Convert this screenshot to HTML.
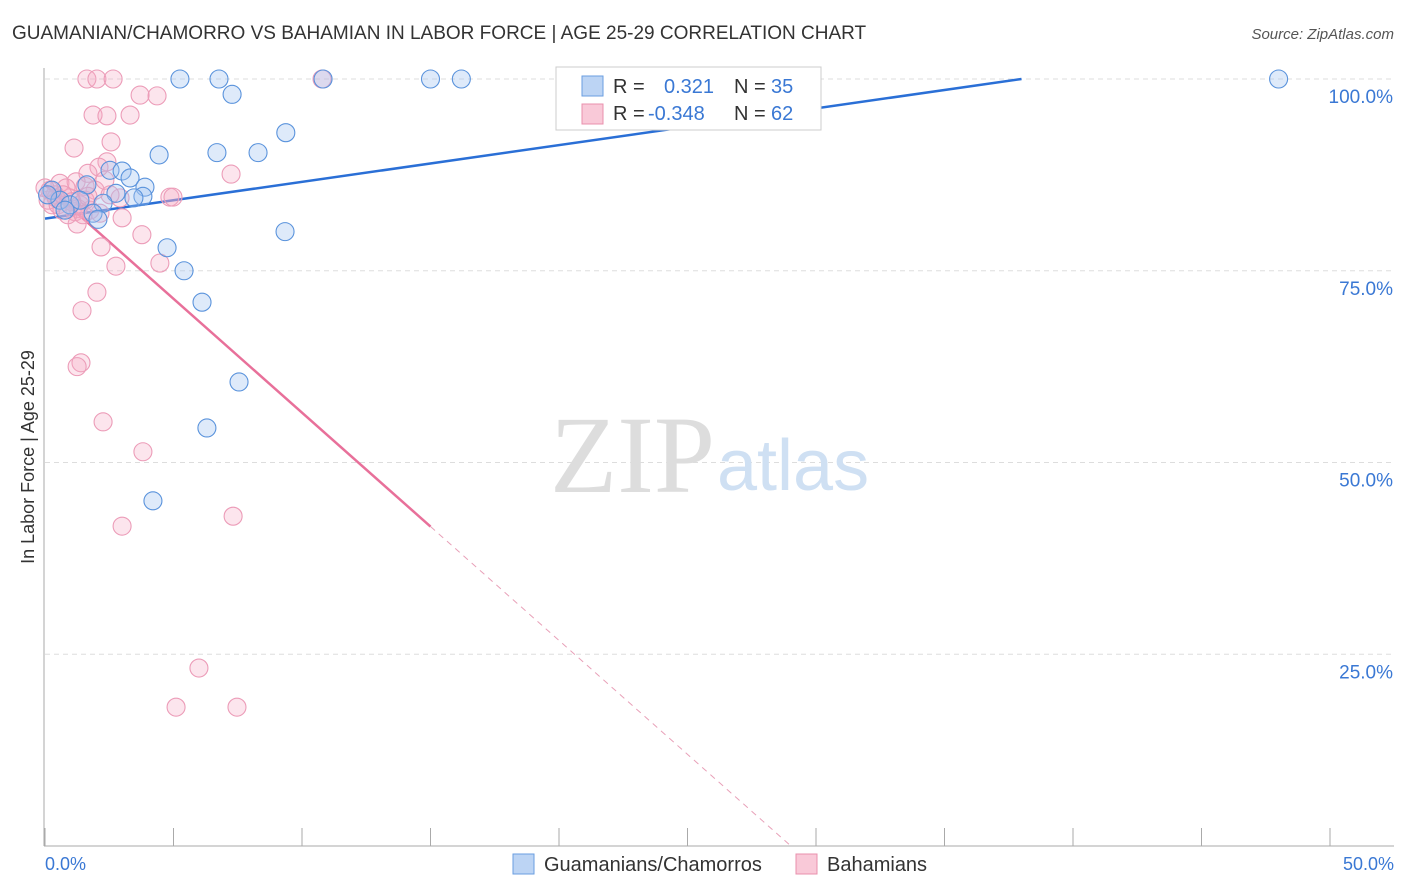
<!DOCTYPE html>
<html><head><meta charset="utf-8"><style>
body{margin:0;background:#fff;font-family:"Liberation Sans",sans-serif;}
</style></head><body>
<svg width="1406" height="892" viewBox="0 0 1406 892" style="display:block">
<text x="12" y="39" font-size="19" fill="#333">GUAMANIAN/CHAMORRO VS BAHAMIAN IN LABOR FORCE | AGE 25-29 CORRELATION CHART</text>
<text x="1394" y="39" font-size="15" fill="#555" font-style="italic" text-anchor="end">Source: ZipAtlas.com</text>
<g id="grid"></g>
<text x="715" y="492" font-size="110" fill="#ddd" text-anchor="end" font-family="Liberation Serif,serif">ZIP</text>
<text x="717" y="490" font-size="72" fill="#cfe0f3">atlas</text>
<line x1="44" y1="68" x2="44" y2="846" stroke="#aaa"/>
<line x1="44" y1="846" x2="1394" y2="846" stroke="#aaa"/>
<g id="ticks"></g>
<text transform="translate(34,457) rotate(-90)" font-size="18" fill="#333" text-anchor="middle">In Labor Force | Age 25-29</text>
<text x="45" y="870" font-size="18" fill="#3a78d4">0.0%</text>
<text x="1394" y="870" font-size="18" fill="#3a78d4" text-anchor="end">50.0%</text>
<g id="lines"></g>
<g id="points"></g>
<g>
<rect x="556" y="67" width="265" height="63" fill="#fff" stroke="#ccc"/>
<rect x="582" y="76" width="21" height="20" fill="#bcd4f4" stroke="#6a9ee0"/>
<rect x="582" y="104" width="21" height="20" fill="#f9c9d8" stroke="#e990ad"/>
<text x="613" y="93" font-size="20" fill="#333">R =</text>
<text x="664" y="93" font-size="20" fill="#3a78d4">0.321</text>
<text x="734" y="93" font-size="20" fill="#333">N =</text>
<text x="771" y="93" font-size="20" fill="#3a78d4">35</text>
<text x="613" y="120" font-size="20" fill="#333">R =</text>
<text x="648" y="120" font-size="20" fill="#3a78d4">-0.348</text>
<text x="734" y="120" font-size="20" fill="#333">N =</text>
<text x="771" y="120" font-size="20" fill="#3a78d4">62</text>
</g>
<g>
<rect x="513" y="854" width="21" height="20" fill="#bcd4f4" stroke="#6a9ee0"/>
<text x="544" y="871" font-size="20" fill="#333">Guamanians/Chamorros</text>
<rect x="796" y="854" width="21" height="20" fill="#f9c9d8" stroke="#e990ad"/>
<text x="827" y="871" font-size="20" fill="#333">Bahamians</text>
</g>
</svg>
<script>
const yTicks=[25,50,75,100];
const xTickVals=[0,5,10,15,20,25,30,35,40,45,50];
const blueX=[5.25,6.77,10.82,15.0,16.2,48.0,7.28,9.37,4.44,6.69,8.29,2.53,3.0,3.31,3.89,1.63,2.76,3.81,3.46,2.26,1.87,2.06,0.27,0.58,0.97,9.34,4.75,5.41,6.11,7.55,6.30,4.20,0.1,1.36,0.78];
const blueY=[100,100,100,100,100,100,98.0,93.0,90.1,90.4,90.4,88.1,88.0,87.1,85.9,86.2,85.1,84.7,84.5,83.8,82.5,81.7,85.5,84.2,83.6,80.1,78.0,75.0,70.9,60.5,54.5,45.0,84.9,84.2,82.9];
const pinkX=[1.63,2.02,2.65,10.78,3.70,4.36,1.87,2.41,3.31,2.57,1.13,2.41,2.10,1.67,7.24,0.58,1.21,1.95,1.56,4.86,4.98,2.92,0.19,0.39,0.12,0.27,0.51,0.66,0.97,1.17,1.36,1.75,1.56,0.82,1.28,3.0,1.25,3.77,2.18,2.76,4.47,2.02,1.44,1.40,1.25,2.26,3.81,7.32,3.0,5.99,5.10,7.47,0.43,0.70,1.05,1.67,2.14,2.53,0,0.89,1.48,2.33];
const pinkY=[100,100,100,100,97.9,97.8,95.3,95.2,95.3,91.8,91.0,89.2,88.5,87.7,87.6,86.4,86.6,85.5,86.0,84.6,84.6,84.5,85.5,84.9,84.2,83.6,83.6,82.9,84.5,82.7,83.6,82.9,84.2,85.8,83.1,81.9,81.1,79.7,78.1,75.6,76.0,72.2,69.8,63.0,62.5,55.3,51.4,43.0,41.7,23.2,18.1,18.1,84.5,84.9,84.0,84.7,82.5,84.9,85.8,82.3,82.3,86.8];
const blueTrend=[81.8,0.479];
const pinkTrend=[86.2,-2.97];
const pinkSolidEnd=15;
const NS='http://www.w3.org/2000/svg';
const sx=v=>45+v*25.7, sy=v=>846-v*7.67;
function mk(tag,attrs,parent){const e=document.createElementNS(NS,tag);for(const k in attrs)e.setAttribute(k,attrs[k]);document.getElementById(parent).appendChild(e);return e;}
yTicks.forEach(t=>{
  const l=mk('line',{x1:45,x2:1394,y1:sy(t),y2:sy(t),stroke:'#ddd','stroke-dasharray':'5,4'},'grid');
  
  
  const tx=mk('text',{x:1393,y:sy(t)+24,'font-size':19,fill:'#3a78d4','text-anchor':'end'},'grid');
  tx.textContent=t.toFixed(1)+'%';
  
  
});
xTickVals.forEach(t=>{
  const l=mk('line',{x1:sx(t),x2:sx(t),y1:828,y2:846,stroke:'#aaa'},'ticks');
  
  
});
const bEnd=(100-blueTrend[0])/blueTrend[1];
let l=mk('line',{x1:sx(0),y1:sy(blueTrend[0]),x2:sx(bEnd),y2:sy(100),stroke:'#2a6fd6','stroke-width':2.5},'lines');


l=mk('line',{x1:sx(0),y1:sy(pinkTrend[0]),x2:sx(pinkSolidEnd),y2:sy(pinkTrend[0]+pinkTrend[1]*pinkSolidEnd),stroke:'#e8709a','stroke-width':2.5},'lines');


const pZero=-pinkTrend[0]/pinkTrend[1];
l=mk('line',{x1:sx(pinkSolidEnd),y1:sy(pinkTrend[0]+pinkTrend[1]*pinkSolidEnd),x2:sx(pZero),y2:sy(0),stroke:'#e8a0b8','stroke-width':1,'stroke-dasharray':'6,5'},'lines');


pinkX.forEach((x,i)=>{
  const c=mk('circle',{cx:sx(x),cy:sy(pinkY[i]),r:9,fill:'rgba(246,170,196,0.3)',stroke:'#ec9cb8','stroke-width':1.1},'points');
  
  
});
blueX.forEach((x,i)=>{
  const c=mk('circle',{cx:sx(x),cy:sy(blueY[i]),r:9,fill:'rgba(160,196,240,0.35)',stroke:'#5a93dc','stroke-width':1.1},'points');
  
  
});
</script>
</body></html>
